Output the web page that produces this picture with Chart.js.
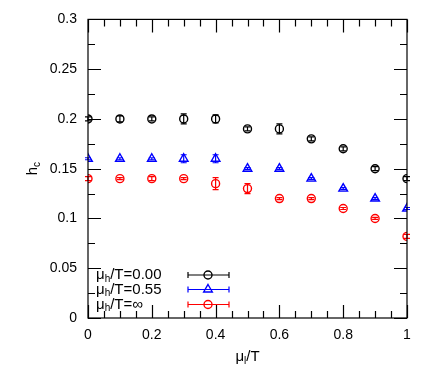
<!DOCTYPE html>
<html>
<head>
<meta charset="utf-8">
<script src="https://cdn.jsdelivr.net/npm/chart.js@4.4.0/dist/chart.umd.min.js"></script>
<style>
  html, body { margin: 0; padding: 0; background: #fff; }
  #wrap { width: 436px; height: 382px; }
</style>
</head>
<body>
<div id="wrap"><canvas id="hcChart" width="436" height="382"></canvas></div>
<script>
// valores
const muL = [0, 0.1, 0.2, 0.3, 0.4, 0.5, 0.6, 0.7, 0.8, 0.9, 1.0];
const hc000 = [0.2, 0.2, 0.2, 0.2, 0.2, 0.19, 0.19, 0.18, 0.17, 0.15, 0.14];
const err000 = [0.002, 0.003, 0.002, 0.005, 0.004, 0.002, 0.005, 0.002, 0.002, 0.002, 0.002];
const hc055 = [0.16, 0.16, 0.16, 0.16, 0.16, 0.15, 0.15, 0.14, 0.13, 0.12, 0.11];
const err055 = [0.001, 0.001, 0.001, 0.004, 0.004, 0.001, 0.001, 0.001, 0.001, 0.001, 0.001];
const hcInf = [0.14, 0.14, 0.14, 0.14, 0.135, 0.13, 0.12, 0.12, 0.11, 0.10, 0.082];
const errInf = [0.002, 0.001, 0.002, 0.001, 0.006, 0.005, 0.001, 0.001, 0.001, 0.001, 0.002];
const legendNames = ['0.00', '0.55', '\u221e'];
const xTicks = [0, 0.2, 0.4, 0.6, 0.8, 1];
const yTicks = [0, 0.05, 0.1, 0.15, 0.2, 0.25, 0.3];

const FONT = 'Liberation Sans, Arial, Helvetica, sans-serif';

function pts(ys, errs) {
    return muL.map((x, i) => ({ x: x, y: ys[i], err: errs[i] }));
}

function mkSet(label, ys, errs, color, style, radius) {
    return {
        label: label,
        data: pts(ys, errs),
        showLine: false,
        borderColor: color,
        backgroundColor: 'rgba(0,0,0,0)',
        pointStyle: style,
        pointRadius: radius,
        pointHoverRadius: radius,
        pointBorderWidth: 1.4,
        pointBackgroundColor: 'rgba(0,0,0,0)',
        pointBorderColor: color
    };
}

// barras de erro verticais
const errorBars = {
    id: 'errorBars',
    beforeDatasetsDraw(chart) {
        const ctx = chart.ctx;
        const xs = chart.scales.x, ys = chart.scales.y;
        ctx.save();
        chart.data.datasets.forEach(ds => {
            ctx.strokeStyle = ds.borderColor;
            ctx.lineWidth = 1.2;
            ds.data.forEach(p => {
                const px = xs.getPixelForValue(p.x);
                const top = ys.getPixelForValue(p.y + p.err);
                const bot = ys.getPixelForValue(p.y - p.err);
                ctx.beginPath();
                ctx.moveTo(px, top); ctx.lineTo(px, bot);
                ctx.moveTo(px - 3, top); ctx.lineTo(px + 3, top);
                ctx.moveTo(px - 3, bot); ctx.lineTo(px + 3, bot);
                ctx.stroke();
            });
        });
        ctx.restore();
    }
};

// ticks para dentro nos quatro lados, titulos e legenda
const frame = {
    id: 'frame',
    afterDraw(chart) {
        const ctx = chart.ctx;
        const a = chart.chartArea;
        const xs = chart.scales.x, ys = chart.scales.y;
        ctx.save();
        ctx.strokeStyle = '#000';
        ctx.lineWidth = 1.2;
        ctx.beginPath();
        for (let i = 0; i <= 20; i++) {
            const v = i * 0.05;
            const len = (i % 4 === 0) ? 13 : 7;
            const px = Math.round(xs.getPixelForValue(v)) + 0.5;
            ctx.moveTo(px, a.bottom); ctx.lineTo(px, a.bottom - len);
            ctx.moveTo(px, a.top); ctx.lineTo(px, a.top + len);
        }
        for (let i = 0; i <= 12; i++) {
            const v = i * 0.025;
            const len = (i % 2 === 0) ? 13 : 7;
            const py = Math.round(ys.getPixelForValue(v)) + 0.5;
            ctx.moveTo(a.left, py); ctx.lineTo(a.left + len, py);
            ctx.moveTo(a.right, py); ctx.lineTo(a.right - len, py);
        }
        ctx.stroke();
        ctx.strokeRect(a.left, a.top, a.right - a.left, a.bottom - a.top);

        // titulos dos eixos
        ctx.fillStyle = '#000';
        ctx.textBaseline = 'alphabetic';
        ctx.textAlign = 'left';
        ctx.font = '15px ' + FONT;
        const w1 = ctx.measureText('μ').width;
        const w3 = ctx.measureText('/T').width;
        ctx.font = '10px ' + FONT;
        const w2 = ctx.measureText('l').width;
        const x0 = (a.left + a.right) / 2 - (w1 + w2 + w3) / 2;
        const yb = 361;
        ctx.font = '15px ' + FONT;
        ctx.fillText('μ', x0, yb);
        ctx.font = '10px ' + FONT;
        ctx.fillText('l', x0 + w1, yb + 3);
        ctx.font = '15px ' + FONT;
        ctx.fillText('/T', x0 + w1 + w2, yb);

        ctx.save();
        ctx.translate(37, (a.top + a.bottom) / 2);
        ctx.rotate(-Math.PI / 2);
        ctx.font = '15px ' + FONT;
        const hw = ctx.measureText('h').width;
        ctx.font = '10px ' + FONT;
        const cw = ctx.measureText('c').width;
        ctx.font = '15px ' + FONT;
        ctx.fillText('h', -(hw + cw) / 2, 0);
        ctx.font = '10px ' + FONT;
        ctx.fillText('c', -(hw + cw) / 2 + hw, 3);
        ctx.restore();

        // legenda
        const rows = [275, 289.5, 304.5];
        chart.data.datasets.forEach((ds, i) => {
            const yy = rows[i];
            ctx.fillStyle = '#000';
            ctx.textBaseline = 'middle';
            ctx.font = '15px ' + FONT;
            ctx.fillText('μ', 96, yy);
            const mw = ctx.measureText('μ').width;
            ctx.font = '10px ' + FONT;
            ctx.fillText('h', 96 + mw, yy + 4);
            const sw = ctx.measureText('h').width;
            ctx.font = '15px ' + FONT;
            ctx.fillText('/T=' + legendNames[i], 96 + mw + sw, yy);

            ctx.strokeStyle = ds.borderColor;
            ctx.lineWidth = 1.2;
            ctx.beginPath();
            ctx.moveTo(188, yy); ctx.lineTo(229, yy);
            ctx.moveTo(188, yy - 3); ctx.lineTo(188, yy + 3);
            ctx.moveTo(229, yy - 3); ctx.lineTo(229, yy + 3);
            ctx.stroke();
            ctx.fillStyle = 'rgba(0,0,0,0)';
            ctx.lineWidth = ds.pointBorderWidth;
            Chart.helpers.drawPoint(ctx, {
                pointStyle: ds.pointStyle,
                radius: ds.pointRadius,
                borderWidth: ds.pointBorderWidth,
                rotation: 0
            }, 208, yy);
        });
        ctx.restore();
    }
};

const ctx = document.getElementById('hcChart').getContext('2d');
const hcChart = new Chart(ctx, {
    type: 'scatter',
    data: {
        datasets: [
            mkSet('0.00', hc000, err000, '#000000', 'circle', 4),
            mkSet('0.55', hc055, err055, '#0000ff', 'triangle', 5),
            mkSet('inf', hcInf, errInf, '#ff0000', 'circle', 4)
        ]
    },
    options: {
        responsive: false,
        animation: false,
        layout: { padding: { left: 0, right: 29, top: 18, bottom: 0 } },
        plugins: {
            legend: { display: false },
            tooltip: { enabled: false }
        },
        scales: {
            x: {
                type: 'linear',
                min: 0, max: 1,
                afterFit: s => { s.height = 64; },
                afterBuildTicks: s => { s.ticks = xTicks.map(v => ({ value: v })); },
                grid: { display: false, drawTicks: false },
                border: { display: false },
                ticks: {
                    padding: 9,
                    color: '#000',
                    font: { family: FONT, size: 14 },
                    maxRotation: 0,
                    callback: v => String(Number(v.toFixed(2)))
                }
            },
            y: {
                type: 'linear',
                min: 0, max: 0.3,
                afterFit: s => { s.width = 88; },
                afterBuildTicks: s => { s.ticks = yTicks.map(v => ({ value: v })); },
                grid: { display: false, drawTicks: false },
                border: { display: false },
                ticks: {
                    padding: 11,
                    color: '#000',
                    font: { family: FONT, size: 14 },
                    callback: v => String(Number(v.toFixed(3)))
                }
            }
        }
    },
    plugins: [errorBars, frame]
});
</script>
</body>
</html>
